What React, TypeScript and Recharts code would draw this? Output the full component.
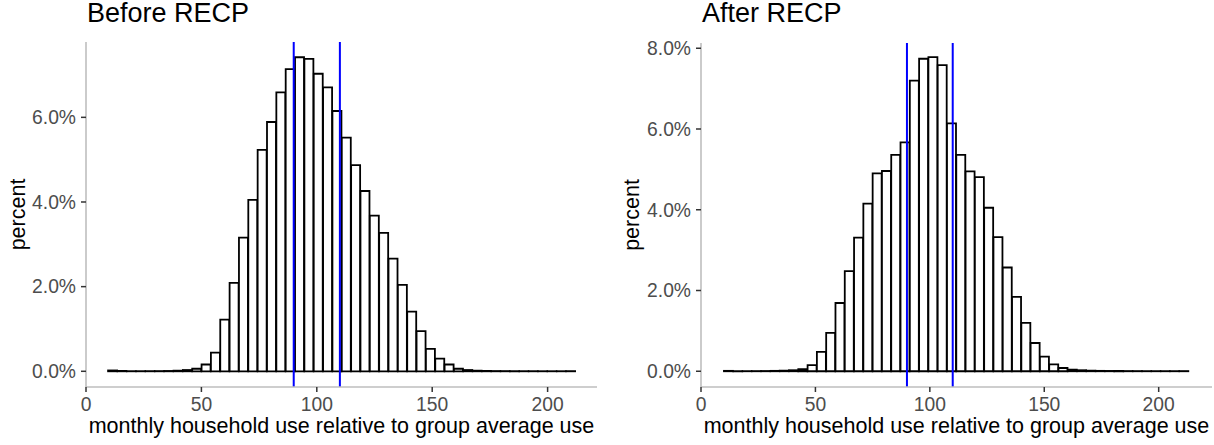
import { BarChart, Bar, XAxis, YAxis, ReferenceLine } from "recharts";

const FONT = "'Liberation Sans', Arial, Helvetica, sans-serif";

// histogram bins (50 bins each), heights in percent of households
const beforeBinStart = 9.57;
const beforeBinWidth = 4.05;
const beforePercent = [
  0.02, 0.01, 0.003, 0.003, 0.004, 0.005, 0.008, 0.015, 0.03,
  0.06, 0.16, 0.44, 1.22, 2.09, 3.16, 4.05, 5.23, 5.89, 6.59,
  7.14, 7.42, 7.38, 7.03, 6.71, 6.15, 5.52, 4.87, 4.26, 3.68,
  3.27, 2.66, 2.04, 1.41, 0.95, 0.53, 0.3, 0.16, 0.06, 0.03,
  0.015, 0.01, 0.006, 0.005, 0.004, 0.003, 0.003, 0.002, 0.002, 0.002, 0.004,
];

const afterBinStart = 10.03;
const afterBinWidth = 4.061;
const afterPercent = [
  0.01, 0.003, 0.003, 0.004, 0.006, 0.01, 0.015, 0.025, 0.05, 0.15, 0.48,
  0.95, 1.69, 2.48, 3.31, 4.15, 4.9, 4.96, 5.36, 5.67, 7.2,
  7.74, 7.78, 7.58, 6.14, 5.36, 4.95, 4.81, 4.05, 3.32, 2.57,
  1.84, 1.2, 0.7, 0.36, 0.17, 0.08, 0.04, 0.025, 0.015, 0.01,
  0.008, 0.006, 0.005, 0.004, 0.003, 0.003, 0.003, 0.003, 0.004,
];

const xTicks = [0, 50, 100, 150, 200];
const beforeYTicks = [0, 2, 4, 6];
const afterYTicks = [0, 2, 4, 6, 8];
const bandLimits = [90, 110];

const xTitle = "monthly household use relative to group average use";

function toBins(start: number, width: number, values: number[]) {
  return values.map((pct, i) => ({ mid: start + width * (i + 0.5), pct }));
}

type PanelProps = {
  title: string;
  data: { mid: number; pct: number }[];
  xDomain: [number, number];
  yDomain: [number, number];
  yTicks: number[];
  yAxisWidth: number;
  marginTop: number;
  marginRight: number;
  labelOffset: number;
  left: number;
};

function Panel(p: PanelProps) {
  return (
    <div style={{ position: "absolute", left: p.left, top: 0, width: 607, height: 445 }}>
      <div
        style={{
          position: "absolute",
          left: p.yAxisWidth + 1,
          top: 0,
          fontFamily: FONT,
          fontSize: 27,
          lineHeight: "27px",
          color: "#000",
          whiteSpace: "nowrap",
        }}
      >
        {p.title}
      </div>
      <BarChart
        width={607}
        height={445}
        data={p.data}
        margin={{ top: p.marginTop, right: p.marginRight, bottom: 0, left: 0 }}
        barCategoryGap={0}
        barGap={0}
      >
        <XAxis
          type="number"
          dataKey="mid"
          domain={p.xDomain}
          ticks={xTicks}
          allowDataOverflow
          height={58}
          tickSize={5}
          tickMargin={5}
          axisLine={{ stroke: "#bebebe", strokeWidth: 1.6 }}
          tickLine={{ stroke: "#333333", strokeWidth: 1.5 }}
          tick={{ fontSize: 19.3, fill: "#4d4d4d", fontFamily: FONT }}
          label={{
            value: xTitle,
            position: "insideBottom",
            offset: 12,
            style: { fontSize: 21.5, fill: "#000", fontFamily: FONT, textAnchor: "middle" },
          }}
        />
        <YAxis
          type="number"
          domain={p.yDomain}
          ticks={p.yTicks}
          allowDataOverflow
          width={p.yAxisWidth}
          tickSize={5}
          tickMargin={5}
          tickFormatter={(v: number) => `${v.toFixed(1)}%`}
          axisLine={{ stroke: "#bebebe", strokeWidth: 1.6 }}
          tickLine={{ stroke: "#333333", strokeWidth: 1.5 }}
          tick={{ fontSize: 19.3, fill: "#4d4d4d", fontFamily: FONT }}
          label={{
            value: "percent",
            angle: -90,
            position: "insideLeft",
            offset: p.labelOffset,
            style: { fontSize: 21.5, fill: "#000", fontFamily: FONT, textAnchor: "middle" },
          }}
        />
        <Bar dataKey="pct" fill="#ffffff" stroke="#000000" strokeWidth={1.8} isAnimationActive={false} />
        {bandLimits.map((x) => (
          <ReferenceLine key={x} x={x} stroke="#0000ff" strokeWidth={2} />
        ))}
      </BarChart>
    </div>
  );
}

export default function App() {
  return (
    <div style={{ position: "absolute", left: 0, top: 0, width: 1214, height: 445, background: "#fff" }}>
      <Panel
        title="Before RECP"
        data={toBins(beforeBinStart, beforeBinWidth, beforePercent)}
        xDomain={[0, 221.4]}
        yDomain={[-0.371, 7.78]}
        yTicks={beforeYTicks}
        yAxisWidth={86}
        marginTop={42}
        marginRight={10}
        labelOffset={17}
        left={0}
      />
      <Panel
        title="After RECP"
        data={toBins(afterBinStart, afterBinWidth, afterPercent)}
        xDomain={[0, 223.3]}
        yDomain={[-0.39, 8.13]}
        yTicks={afterYTicks}
        yAxisWidth={94}
        marginTop={43}
        marginRight={2}
        labelOffset={24}
        left={607}
      />
    </div>
  );
}
